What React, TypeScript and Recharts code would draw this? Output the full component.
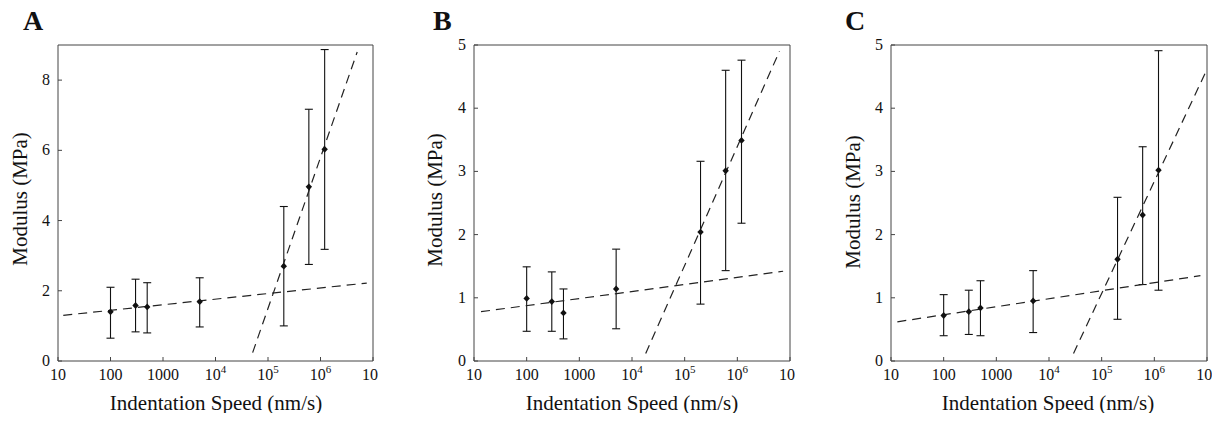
import React from 'react';
import { ComposedChart, Scatter, ErrorBar, XAxis, YAxis } from 'recharts';

const speeds = [100, 300, 500, 5000, 2e5, 6e5, 1.2e6];
const xTicks = [10, 100, 1000, 1e4, 1e5, 1e6, 1e7];

const meanA = [1.4, 1.58, 1.54, 1.69, 2.7, 4.96, 6.03];
const lowA = [0.65, 0.83, 0.8, 0.97, 1.0, 2.75, 3.18];
const highA = [2.1, 2.33, 2.23, 2.37, 4.4, 7.17, 8.87];

const meanB = [0.99, 0.94, 0.76, 1.14, 2.04, 3.01, 3.49];
const lowB = [0.47, 0.47, 0.35, 0.51, 0.9, 1.43, 2.18];
const highB = [1.49, 1.41, 1.14, 1.77, 3.16, 4.6, 4.76];

const meanC = [0.72, 0.78, 0.84, 0.95, 1.61, 2.31, 3.02];
const lowC = [0.4, 0.42, 0.4, 0.45, 0.66, 1.21, 1.12];
const highC = [1.05, 1.12, 1.27, 1.43, 2.59, 3.39, 4.91];

// fitted lines, end points
const shallowA = [{ x: 12.6, y: 1.3 }, { x: 7.6e6, y: 2.22 }];
const steepA = [{ x: 5.1e4, y: 0.24 }, { x: 5.0e6, y: 8.8 }];
const shallowB = [{ x: 13.6, y: 0.78 }, { x: 7.4e6, y: 1.42 }];
const steepB = [{ x: 1.82e4, y: 0.12 }, { x: 6.3e6, y: 4.9 }];
const shallowC = [{ x: 13.2, y: 0.62 }, { x: 7.5e6, y: 1.35 }];
const steepC = [{ x: 2.92e4, y: 0.12 }, { x: 9.8e6, y: 4.6 }];

const yTicksA = [0, 2, 4, 6, 8];
const yTicks5 = [0, 1, 2, 3, 4, 5];

const FONT = '"Liberation Serif", "Times New Roman", serif';
const AXIS = '#444';
const INK = '#111';
const DASH = { stroke: '#222', strokeWidth: 1.2, strokeDasharray: '9 6' };

const points = (mean, low, high) =>
  speeds.map((s, i) => ({ x: s, y: mean[i], err: [mean[i] - low[i], high[i] - mean[i]] }));

const Diamond = ({ cx, cy }) =>
  cx == null ? <g /> : <path d={`M${cx},${cy - 3.4}L${cx + 3.2},${cy}L${cx},${cy + 3.4}L${cx - 3.2},${cy}Z`} fill={INK} />;

const NoDot = () => <g />;

const tickStyle = { fontFamily: FONT, fontSize: 16 };

const makeXTick = (cutLast) => ({ x, y, payload }) => {
  const v = payload.value;
  const e = Math.round(Math.log10(v));
  const p = { textAnchor: 'middle', fill: INK, fontFamily: FONT, fontSize: 16, style: tickStyle };
  if (e <= 3) {
    return <text x={x} y={y + 19} {...p}>{String(v)}</text>;
  }
  if (e === 7 && cutLast) {
    return <text x={x - 3} y={y + 19} {...p}>10</text>;
  }
  return (
    <text x={x} y={y + 19} {...p}>
      10<tspan fontSize={11} style={{ fontSize: 11 }} dy={-7}>{e}</tspan>
    </text>
  );
};

const YTick = ({ x, y, payload }) => (
  <text x={x} y={y + 5} textAnchor="end" fill={INK} fontFamily={FONT} fontSize={16} style={tickStyle}>
    {payload.value}
  </text>
);

const Panel = ({ left, width, plotLeft, plotRight, yMax, yTicks, data, shallow, steep, cutLast }) => (
  <div style={{ position: 'absolute', left, top: 0 }}>
    <ComposedChart width={width} height={421} margin={{ top: 44, right: width - plotRight - 1, bottom: 0, left: 0 }}>
      <XAxis
        xAxisId="b"
        dataKey="x"
        type="number"
        scale="log"
        domain={[10, 1e7]}
        ticks={xTicks}
        allowDataOverflow
        height={60}
        stroke={AXIS}
        tickSize={-4}
        tickMargin={4}
        tick={makeXTick(cutLast)}
        interval={0}
      />
      <XAxis
        xAxisId="t"
        orientation="top"
        dataKey="x"
        type="number"
        scale="log"
        domain={[10, 1e7]}
        ticks={xTicks}
        allowDataOverflow
        height={1}
        stroke={AXIS}
        tickSize={-4}
        tick={false}
        interval={0}
      />
      <YAxis
        yAxisId="l"
        dataKey="y"
        type="number"
        domain={[0, yMax]}
        ticks={yTicks}
        allowDataOverflow
        width={plotLeft}
        stroke={AXIS}
        tickSize={-4}
        tickMargin={12}
        tick={YTick}
        interval={0}
      />
      <YAxis yAxisId="r" orientation="right" dataKey="y" type="number" domain={[0, yMax]} width={1} stroke={AXIS} tick={false} tickLine={false} />
      <Scatter xAxisId="b" yAxisId="l" data={shallow} line={DASH} shape={NoDot} isAnimationActive={false} />
      <Scatter xAxisId="b" yAxisId="l" data={steep} line={DASH} shape={NoDot} isAnimationActive={false} />
      <Scatter xAxisId="b" yAxisId="l" data={data} shape={Diamond} isAnimationActive={false}>
        <ErrorBar dataKey="err" direction="y" width={4} stroke={INK} strokeWidth={1.1} isAnimationActive={false} />
      </Scatter>
    </ComposedChart>
  </div>
);

const labels = [
  { letter: 'A', lx: 23, ly: 30, yx: 27, yy: 199, xx: 216 },
  { letter: 'B', lx: 433, ly: 30, yx: 442, yy: 200, xx: 632 },
  { letter: 'C', lx: 845, ly: 30, yx: 860, yy: 202, xx: 1048 },
];

export default function App() {
  return (
    <div style={{ position: 'relative', width: 1220, height: 421, margin: -8, background: '#fff', overflow: 'hidden' }}>
      <Panel left={0} width={400} plotLeft={58} plotRight={373} yMax={9} yTicks={yTicksA}
        data={points(meanA, lowA, highA)} shallow={shallowA} steep={steepA} cutLast />
      <Panel left={400} width={410} plotLeft={74} plotRight={390} yMax={5} yTicks={yTicks5}
        data={points(meanB, lowB, highB)} shallow={shallowB} steep={steepB} cutLast />
      <Panel left={810} width={410} plotLeft={81} plotRight={397} yMax={5} yTicks={yTicks5}
        data={points(meanC, lowC, highC)} shallow={shallowC} steep={steepC} cutLast={false} />
      <svg width={1220} height={421} style={{ position: 'absolute', left: 0, top: 0, pointerEvents: 'none' }}>
        {labels.map((l) => (
          <g key={l.letter} fontFamily={FONT} fill={INK}>
            <text x={l.lx} y={l.ly} fontSize={28} fontWeight="bold">{l.letter}</text>
            <text x={l.yx} y={l.yy} fontSize={21} textAnchor="middle" transform={`rotate(-90 ${l.yx} ${l.yy})`}>
              Modulus (MPa)
            </text>
            <text x={l.xx} y={410} fontSize={21} textAnchor="middle">Indentation Speed (nm/s)</text>
          </g>
        ))}
      </svg>
    </div>
  );
}
